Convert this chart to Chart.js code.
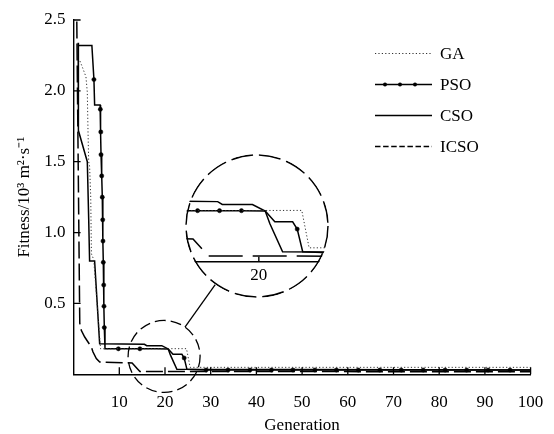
<!DOCTYPE html>
<html>
<head>
<meta charset="utf-8">
<script src="https://cdn.jsdelivr.net/npm/chart.js@4.4.1/dist/chart.umd.min.js"></script>
<style>
  body { margin: 0; background: #fff; }
  #wrap { position: relative; width: 554px; height: 434px; }
  canvas { display: block; }
  #zoomBox { position: absolute; left: 185px; top: 154px; width: 144px; height: 144px;
             border-radius: 50%; overflow: hidden; background: #fff; }
</style>
</head>
<body>
<div id="wrap">
  <canvas id="fitChart" width="554" height="434"></canvas>
  <div id="zoomBox"><canvas id="zoomChart" width="144" height="144"></canvas></div>
</div>
<script>
// values (generation, fitness in 10^3 m^2/s)
const gaGen = [1.4, 2.0, 2.7, 3.0, 3.15, 3.3, 3.5, 3.75, 3.9, 4.4, 5.9, 24.7, 25.5, 100];
const gaFit = [2.21, 2.16, 2.10, 1.99, 1.72, 1.50, 1.47, 1.25, 0.85, 0.81, 0.18, 0.181, 0.049, 0.049];

const psoGen = [1, 4.0, 4.45, 4.6, 5.8, 5.85, 5.95, 6.0, 6.15, 6.28, 6.37, 6.43, 6.5, 6.59, 6.65, 6.72, 6.87,
                9.8, 13.3, 14.5, 15.7, 18.1, 20.7, 21.75, 23.7, 24.2, 24.8,
                29.0, 33.8, 38.6, 43.3, 48.0, 52.8, 57.5, 62.3, 67.0, 71.7, 76.5, 81.3, 86.0, 90.7, 95.5, 100];
const psoFit = [2.32, 2.32, 2.08, 1.90, 1.90, 1.87, 1.71, 1.55, 1.40, 1.25, 1.09, 0.94, 0.79, 0.63, 0.48, 0.33, 0.18,
                0.18, 0.18, 0.18, 0.18, 0.18, 0.179, 0.141, 0.141, 0.115, 0.035,
                0.03, 0.03, 0.03, 0.03, 0.03, 0.03, 0.03, 0.03, 0.03, 0.03, 0.03, 0.03, 0.03, 0.03, 0.03, 0.03];
// 1 = marker in main plot, 2 = marker in zoomed view, 3 = both
const psoMark = [0, 0, 1, 0, 0, 1, 1, 1, 1, 1, 1, 1, 1, 1, 1, 1, 0,
                 1, 2, 1, 2, 2, 0, 0, 0, 3, 0,
                 1, 1, 1, 1, 1, 1, 1, 1, 1, 1, 1, 1, 1, 1, 1, 0];

const csoGen = [1.0, 1.05, 3.0, 3.3, 3.5, 4.6, 5.7, 15.5, 16.0, 19.3, 20.7, 21.2, 22.6, 100];
const csoFit = [2.34, 1.72, 1.50, 1.10, 0.80, 0.80, 0.215, 0.212, 0.202, 0.202, 0.179, 0.135, 0.035, 0.03];

const icsoGen = [0.7, 1.35, 1.68, 2.43, 3.15, 3.87, 4.25, 4.97, 5.71, 12.8, 14.5, 100];
const icsoFit = [2.49, 0.36, 0.31, 0.263, 0.228, 0.193, 0.157, 0.111, 0.087, 0.08, 0.02, 0.018];

const xTicks = [10, 20, 30, 40, 50, 60, 70, 80, 90, 100];
const yTicks = [0.5, 1.0, 1.5, 2.0, 2.5];
const zoomCenter = [19.8, 0.126];   // middle of the small circle
const zoomTicks = [20];

const SERIF = "'Liberation Serif', 'Times New Roman', serif";

function pts(gens, fits) {
  return gens.map((g, i) => ({ x: g, y: fits[i] }));
}

// k = 2 for the magnified view so dash lengths scale with it
function makeDatasets(markBit, k) {
  return [
    { label: 'GA', data: pts(gaGen, gaFit), borderColor: '#333', borderWidth: 1,
      borderDash: [1.2, 2.2], pointRadius: 0, legendDash: [1.2, 2.2] },
    { label: 'PSO', data: pts(psoGen, psoFit), borderColor: '#000', borderWidth: 1.5,
      pointRadius: psoMark.map(m => (m & markBit) ? 2.1 : 0), pointBackgroundColor: '#000',
      pointBorderColor: '#000', pointBorderWidth: 0.5, legendDots: true },
    { label: 'CSO', data: pts(csoGen, csoFit), borderColor: '#000', borderWidth: 1.5, pointRadius: 0 },
    { label: 'ICSO', data: pts(icsoGen, icsoFit), borderColor: '#000', borderWidth: 1.5,
      borderDash: [17 * k, 5 * k], pointRadius: 0, legendDash: [5.5, 2.6] }
  ];
}

const inwardTicks = {
  id: 'inwardTicks',
  afterDraw(chart) {
    const { ctx, chartArea: a, scales: { x, y } } = chart;
    ctx.save();
    ctx.strokeStyle = '#000';
    ctx.lineWidth = 1.3;
    ctx.beginPath();
    xTicks.forEach(v => {
      const px = x.getPixelForValue(v);
      ctx.moveTo(px, a.bottom);
      ctx.lineTo(px, a.bottom - 7);
    });
    yTicks.forEach(v => {
      const py = y.getPixelForValue(v);
      ctx.moveTo(a.left, py);
      ctx.lineTo(a.left + 7, py);
    });
    ctx.stroke();
    ctx.restore();
  }
};

const lineLegend = {
  id: 'lineLegend',
  afterDraw(chart) {
    const ctx = chart.ctx;
    ctx.save();
    ctx.font = '17px ' + SERIF;
    ctx.textBaseline = 'middle';
    ctx.fillStyle = '#000';
    chart.data.datasets.forEach((ds, i) => {
      const yy = 53.5 + i * 31;
      ctx.strokeStyle = ds.borderColor;
      ctx.lineWidth = ds.borderWidth;
      ctx.setLineDash(ds.legendDash || []);
      ctx.beginPath();
      ctx.moveTo(375, yy);
      ctx.lineTo(432, yy);
      ctx.stroke();
      ctx.setLineDash([]);
      if (ds.legendDots) {
        [385, 400, 415].forEach(dx => {
          ctx.beginPath();
          ctx.arc(dx, yy, 2, 0, Math.PI * 2);
          ctx.fill();
        });
      }
      ctx.fillText(ds.label, 440, yy + 1);
    });
    ctx.restore();
  }
};

// small dashed circle + line toward the magnified view
const zoomMark = {
  id: 'zoomMark',
  afterDraw(chart) {
    const { ctx, scales: { x, y } } = chart;
    const cx = x.getPixelForValue(zoomCenter[0]);
    const cy = y.getPixelForValue(zoomCenter[1]);
    const bx = 257, by = 226;
    ctx.save();
    ctx.strokeStyle = '#000';
    ctx.lineWidth = 1.3;
    ctx.setLineDash([11, 5]);
    ctx.beginPath();
    ctx.arc(cx, cy, 36, 0, Math.PI * 2);
    ctx.stroke();
    ctx.setLineDash([]);
    const dx = bx - cx, dy = by - cy, d = Math.hypot(dx, dy);
    ctx.beginPath();
    ctx.moveTo(cx + dx / d * 36, cy + dy / d * 36);
    ctx.lineTo(bx - dx / d * 72, by - dy / d * 72);
    ctx.stroke();
    ctx.restore();
  }
};

const mainChart = new Chart(document.getElementById('fitChart'), {
  type: 'line',
  data: { datasets: makeDatasets(1, 1) },
  options: {
    responsive: false,
    animation: false,
    events: [],
    layout: { padding: { top: 20, right: 23.4, left: 0, bottom: 0 } },
    elements: { line: { tension: 0 } },
    plugins: { legend: { display: false }, tooltip: { enabled: false } },
    scales: {
      x: {
        type: 'linear', min: 0, max: 100,
        grid: { display: false, drawTicks: false },
        border: { color: '#000', width: 1.4 },
        ticks: { stepSize: 10, color: '#000', padding: 18, maxRotation: 0,
                 font: { family: SERIF, size: 17 },
                 callback: v => (v === 0 ? '' : v) },
        title: { display: true, text: 'Generation', color: '#000', padding: 0,
                 font: { family: SERIF, size: 17, lineHeight: 1 } },
        afterFit: s => { s.height = 59.7; s.paddingLeft = 0; s.paddingRight = 0; }
      },
      y: {
        type: 'linear', min: 0, max: 2.5,
        grid: { display: false, drawTicks: false },
        border: { color: '#000', width: 1.4 },
        ticks: { stepSize: 0.5, color: '#000', padding: 8,
                 font: { family: SERIF, size: 17 },
                 callback: v => (v === 0 ? '' : v.toFixed(1)) },
        title: { display: true, text: 'Fitness/10³ m²·s⁻¹', color: '#000',
                 padding: { top: 14, bottom: 0 },
                 font: { family: SERIF, size: 17 } },
        afterFit: s => { s.width = 73.6; s.paddingTop = 0; s.paddingBottom = 0; }
      }
    }
  },
  plugins: [inwardTicks, lineLegend, zoomMark]
});

// magnified view: same data, 2x around the small circle
const mx = mainChart.scales.x, my = mainChart.scales.y;
const cxPx = mx.getPixelForValue(zoomCenter[0]);
const cyPx = my.getPixelForValue(zoomCenter[1]);

const zoomAxis = {
  id: 'zoomAxis',
  beforeDatasetsDraw(chart) {
    const { ctx, chartArea: a, scales: { x, y } } = chart;
    const y0 = y.getPixelForValue(0);
    ctx.save();
    ctx.strokeStyle = '#000';
    ctx.lineWidth = 1.4;
    ctx.beginPath();
    ctx.moveTo(a.left, y0);
    ctx.lineTo(a.right, y0);
    zoomTicks.forEach(v => {
      const px = x.getPixelForValue(v);
      ctx.moveTo(px, y0);
      ctx.lineTo(px, y0 - 5);
    });
    ctx.stroke();
    ctx.fillStyle = '#000';
    ctx.font = '17px ' + SERIF;
    ctx.textAlign = 'center';
    ctx.textBaseline = 'middle';
    zoomTicks.forEach(v => ctx.fillText(String(v), x.getPixelForValue(v), y0 + 14));
    ctx.restore();
  },
  afterDraw(chart) {
    const { ctx, width, height } = chart;
    ctx.save();
    ctx.strokeStyle = '#000';
    ctx.lineWidth = 1.5;
    ctx.setLineDash([22, 6]);
    ctx.beginPath();
    ctx.arc(width / 2, height / 2, width / 2 - 1, 0, Math.PI * 2);
    ctx.stroke();
    ctx.restore();
  }
};

new Chart(document.getElementById('zoomChart'), {
  type: 'line',
  data: { datasets: makeDatasets(2, 2) },
  options: {
    responsive: false,
    animation: false,
    events: [],
    layout: { padding: 0 },
    elements: { line: { tension: 0 } },
    plugins: { legend: { display: false }, tooltip: { enabled: false } },
    scales: {
      x: { type: 'linear', display: false,
           min: mx.getValueForPixel(cxPx - 36), max: mx.getValueForPixel(cxPx + 36) },
      y: { type: 'linear', display: false,
           min: my.getValueForPixel(cyPx + 36), max: my.getValueForPixel(cyPx - 36) }
    }
  },
  plugins: [zoomAxis]
});
</script>
</body>
</html>
